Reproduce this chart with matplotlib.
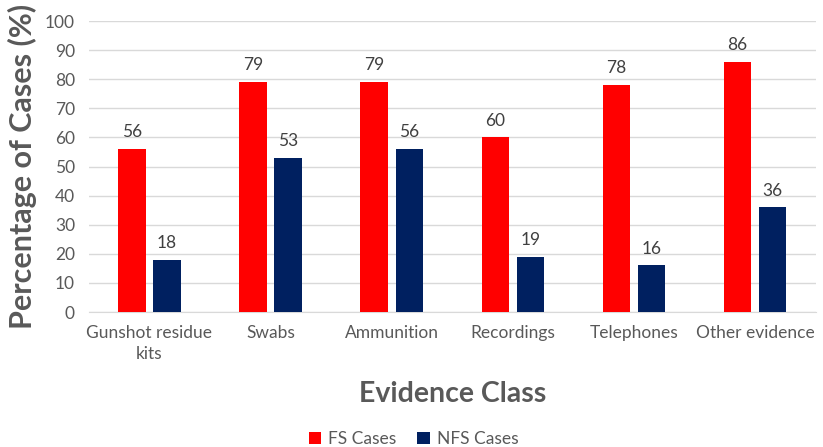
import numpy as np
import matplotlib.pyplot as plt

# data
categories = ["Gunshot residue\nkits", "Swabs", "Ammunition", "Recordings", "Telephones", "Other evidence"]
fs_cases = [56, 79, 79, 60, 78, 86]
nfs_cases = [18, 53, 56, 19, 16, 36]

plt.rcParams["font.family"] = ["Lato", "DejaVu Sans"]
gray = "#595959"

fig = plt.figure(figsize=(8.23, 4.47), dpi=100)
ax = fig.add_axes([0.108, 0.302, 0.883, 0.651])

x = np.arange(len(categories))
w = 0.225
b1 = ax.bar(x - 0.145, fs_cases, w, color="#ff0000", label="FS Cases", zorder=3)
b2 = ax.bar(x + 0.145, nfs_cases, w, color="#002060", label="NFS Cases", zorder=3)

for bars in (b1, b2):
    for r in bars:
        ax.text(r.get_x() + r.get_width() / 2, r.get_height() + 3, str(int(r.get_height())),
                ha="center", va="bottom", fontsize=12.5, color="#404040")

ax.set_xlim(-0.5, len(categories) - 0.5)
ax.set_ylim(0, 100)
ax.set_yticks(range(0, 101, 10))
ax.yaxis.grid(True, color="#d9d9d9", linewidth=1, zorder=0)
ax.set_xticks(x)
ax.set_xticklabels(categories, fontsize=12.5, color=gray, linespacing=1.4)
ax.tick_params(axis="y", labelsize=12.5, labelcolor=gray, length=0, pad=10)
ax.tick_params(axis="x", length=0, pad=9)
for s in ["top", "right", "left"]:
    ax.spines[s].set_visible(False)
ax.spines["bottom"].set_color("#d9d9d9")

ax.set_ylabel("Percentage of Cases (%)", fontsize=22, fontweight="bold", color=gray, labelpad=6)
ax.set_xlabel("Evidence Class", fontsize=20.5, fontweight="bold", color=gray, labelpad=14)

ax.legend(loc="upper center", bbox_to_anchor=(0.447, -0.355), ncol=2, frameon=False,
          fontsize=12.5, labelcolor=gray, handlelength=0.7, handleheight=0.7,
          handletextpad=0.4, columnspacing=1.2)

fig.savefig("out.png", dpi=100)
